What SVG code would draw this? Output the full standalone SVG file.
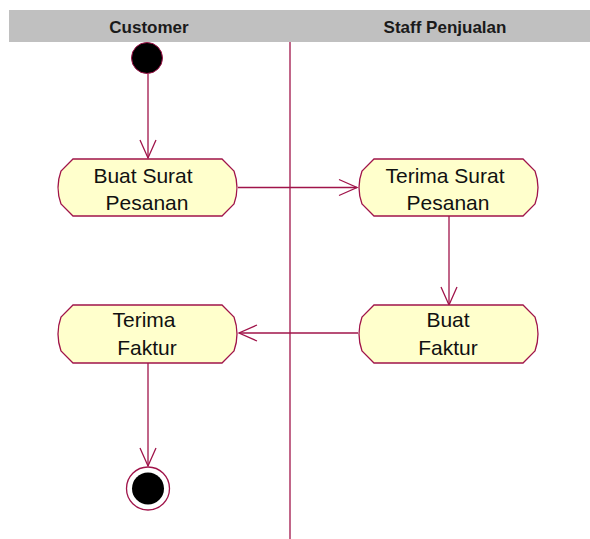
<svg xmlns="http://www.w3.org/2000/svg" width="590" height="539" viewBox="0 0 590 539">
<style>
.lane{fill:#C0C0C0;}
.lanetxt{font-family:"Liberation Sans",Arial,sans-serif;font-weight:bold;font-size:17px;fill:#1a1a1a;text-anchor:middle;}
.act{fill:#FFFFCC;stroke:#A0144A;stroke-width:1.3;}
.txt{font-family:"Liberation Sans",Arial,sans-serif;font-size:21px;fill:#111;text-anchor:middle;}
.edge{fill:none;stroke:#A0144A;stroke-width:1.3;marker-end:url(#arr);}
.div{stroke:#A0144A;stroke-width:1.3;}
</style>
<defs>
<marker id="arr" markerUnits="userSpaceOnUse" markerWidth="22" markerHeight="20" refX="18" refY="8" orient="auto" viewBox="-1 0 22 16">
<path d="M0,0 L18,8 L0,16" fill="none" stroke="#A0144A" stroke-width="1.3"/>
</marker>
</defs>
<rect width="590" height="539" fill="#FFFFFF"/>
<g id="swimlanes">
<rect class="lane" x="9" y="10" width="581" height="32"/>
<text class="lanetxt" x="149" y="33">Customer</text>
<text class="lanetxt" x="445" y="33">Staff Penjualan</text>
<line class="div" x1="290" y1="42" x2="290" y2="539"/>
</g>
<g id="connectors">
<path class="edge" d="M148,74 V158"/>
<path class="edge" d="M238,187.5 H357"/>
<path class="edge" d="M449,216 V305"/>
<path class="edge" d="M358,333 H239"/>
<path class="edge" d="M148,363 V466"/>
</g>
<g id="start">
<circle cx="147" cy="58" r="15.5" fill="#000" stroke="#A0144A" stroke-width="1"/>
</g>
<g id="buat-surat-pesanan">
<path class="act" d="M73,159 H222 L234,171 Q240,187.5 234,204 L222,216 H73 L61,204 Q55,187.5 61,171 Z"/>
<text class="txt" x="143" y="183">Buat Surat</text>
<text class="txt" x="147" y="210">Pesanan</text>
</g>
<g id="terima-surat-pesanan">
<path class="act" d="M374,159 H523 L535,171 Q541,187.5 535,204 L523,216 H374 L362,204 Q356,187.5 362,171 Z"/>
<text class="txt" x="445" y="183">Terima Surat</text>
<text class="txt" x="448" y="210">Pesanan</text>
</g>
<g id="buat-faktur">
<path class="act" d="M374,305 H523 L535,317 Q541,334 535,351 L523,363 H374 L362,351 Q356,334 362,317 Z"/>
<text class="txt" x="448" y="327">Buat</text>
<text class="txt" x="448" y="355">Faktur</text>
</g>
<g id="terima-faktur">
<path class="act" d="M73,305 H222 L234,317 Q240,334 234,351 L222,363 H73 L61,351 Q55,334 61,317 Z"/>
<text class="txt" x="144" y="327">Terima</text>
<text class="txt" x="147" y="355">Faktur</text>
</g>
<g id="end">
<circle cx="148" cy="488.5" r="21.5" fill="#FFFFFF" stroke="#A0144A" stroke-width="1.3"/>
<circle cx="148" cy="488.5" r="16" fill="#000"/>
</g>
</svg>
